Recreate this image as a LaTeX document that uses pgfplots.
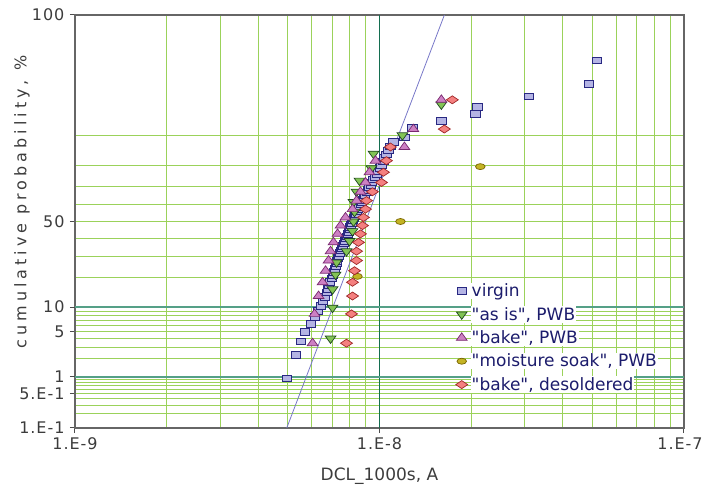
\documentclass[border=0pt]{standalone}
\usepackage{fontspec}
\setmainfont{DejaVu Sans}
\newfontfamily\spaced[LetterSpace=6]{DejaVu Sans}
\newfontfamily\wide[LetterSpace=25]{DejaVu Sans}
\usepackage{pgfplots}
\pgfplotsset{compat=1.18}
\usetikzlibrary{calc}

\definecolor{gridgreen}{RGB}{155,210,90}
\definecolor{vteal}{RGB}{20,110,80}
\definecolor{hteal}{RGB}{85,160,135}
\definecolor{vfill}{RGB}{180,180,228}
\definecolor{vdraw}{RGB}{40,40,130}
\definecolor{gfill}{RGB}{130,195,85}
\definecolor{gdraw}{RGB}{30,70,30}
\definecolor{pfill}{RGB}{205,128,195}
\definecolor{pdraw}{RGB}{120,40,110}
\definecolor{yfill}{RGB}{196,180,36}
\definecolor{ydraw}{RGB}{120,100,0}
\definecolor{rfill}{RGB}{244,128,128}
\definecolor{rdraw}{RGB}{160,40,40}
\definecolor{fitline}{RGB}{120,120,200}
\definecolor{legtext}{RGB}{28,28,108}
\definecolor{labtext}{RGB}{60,60,60}

\begin{document}
\begin{tikzpicture}
\begin{axis}[
    scale only axis,
    width=609pt, height=413pt,
    xmode=log,
    xmin=1e-9, xmax=1e-7,
    ymin=-3.0902, ymax=3.0902,
    % y axis is a normal-probability scale: values are z = probit(F)
    xtick={1e-9,1e-7},
    xticklabels={1.E-9,\hspace*{-8pt}1.E-7},
    extra x ticks={1e-8},
    extra x tick labels={1.E-8},
    extra x tick style={grid=major, major grid style={draw=vteal, line width=1.2pt}},
    minor xtick={2e-9,3e-9,4e-9,5e-9,6e-9,7e-9,8e-9,9e-9,2e-8,3e-8,4e-8,5e-8,6e-8,7e-8,8e-8,9e-8},
    ytick={-3.0902,-2.5758,-1.6449,0,3.0902},
    yticklabels={1.E-1,5.E-1,5,50,100},
    extra y ticks={-2.3263,-1.2816},
    extra y tick labels={1,10},
    extra y tick style={grid=major, major grid style={draw=hteal, line width=2pt}},
    minor ytick={-2.8782,-2.7478,-2.6521,-2.5121,-2.4573,-2.4089,-2.3656,
                 -2.0537,-1.8808,-1.7507,-1.5548,-1.4758,-1.4051,-1.3408,
                 -0.8416,-0.5244,-0.2533,0.2533,0.5244,0.8416,1.2816},
    grid=both,
    major grid style={draw=gridgreen, line width=1pt},
    minor grid style={draw=gridgreen, line width=1pt},
    tick align=outside,
    tick pos=left,
    major tick length=5pt,
    minor tick length=0pt,
    tick style={draw=black!70, line width=1pt},
    axis line style={draw=black!60, line width=1.2pt},
    ticklabel style={font=\spaced\fontsize{16}{16}\selectfont, text=labtext},
    xticklabel style={yshift=-1pt},
    yticklabel style={xshift=-2pt},
    xlabel={DCL\_1000s, A},
    xlabel style={at={(axis description cs:0.5,-0.116)}, anchor=center,
                  font=\fontsize{17}{17}\selectfont, text=labtext},
    ylabel={\wide cumulative probability, \%},
    ylabel style={at={(axis description cs:-0.087,0.547)}, anchor=center,
                  font=\fontsize{16}{16}\selectfont, text=labtext},
    legend style={at={(axis description cs:0.62,0.357)}, anchor=north west,
                  draw=none, fill=none, text=legtext,
                  font=\fontsize{17}{20}\selectfont,
                  nodes={fill=white, inner sep=1pt},
                  row sep=7pt, column sep=3pt},
    legend cell align=left,
]
\coordinate (ll) at (rel axis cs:0,0);
\coordinate (ur) at (rel axis cs:1,1);

% fitted line
\addplot[fitline, line width=0.8pt, forget plot] coordinates {(4.96e-9,-3.0902) (1.634e-8,3.0902)};

% virgin
\addplot[only marks, mark=square*, mark size=3.3pt, draw=vdraw, fill=vfill,
         mark options={xscale=1.4, line width=0.7pt}] coordinates {
(4.956e-9,-2.349) (5.304e-9,-1.998) (5.508e-9,-1.795) (5.677e-9,-1.648)
(5.939e-9,-1.529) (6.121e-9,-1.429) (6.262e-9,-1.341) (6.405e-9,-1.262)
(6.503e-9,-1.190) (6.602e-9,-1.124) (6.702e-9,-1.063) (6.753e-9,-1.005)
(6.804e-9,-0.951) (6.856e-9,-0.900) (6.960e-9,-0.850) (7.013e-9,-0.803)
(7.066e-9,-0.757) (7.120e-9,-0.713) (7.174e-9,-0.670) (7.228e-9,-0.628)
(7.228e-9,-0.588) (7.283e-9,-0.548) (7.338e-9,-0.510) (7.394e-9,-0.472)
(7.450e-9,-0.434) (7.506e-9,-0.398) (7.563e-9,-0.361) (7.620e-9,-0.326)
(7.678e-9,-0.290) (7.736e-9,-0.255) (7.795e-9,-0.221) (7.854e-9,-0.187)
(7.913e-9,-0.152) (7.973e-9,-0.118) (7.973e-9,-0.084) (8.034e-9,-0.051)
(8.094e-9,-0.017) (8.156e-9,0.017) (8.217e-9,0.051) (8.280e-9,0.084)
(8.342e-9,0.118) (8.406e-9,0.152) (8.469e-9,0.187) (8.533e-9,0.221)
(8.663e-9,0.255) (8.729e-9,0.290) (8.795e-9,0.326) (8.862e-9,0.361)
(8.929e-9,0.398) (9.065e-9,0.434) (9.134e-9,0.472) (9.203e-9,0.510)
(9.343e-9,0.548) (9.414e-9,0.588) (9.485e-9,0.628) (9.630e-9,0.670)
(9.776e-9,0.713) (9.925e-9,0.757) (1.0076e-8,0.803) (1.0152e-8,0.850)
(1.0307e-8,0.900) (1.0385e-8,0.951) (1.0543e-8,1.005) (1.0703e-8,1.063)
(1.0866e-8,1.124) (1.1115e-8,1.190) (1.2077e-8,1.262) (1.2828e-8,1.400)
(1.5971e-8,1.51) (2.0643e-8,1.61) (2.0957e-8,1.72) (3.1025e-8,1.87)
(4.8812e-8,2.06) (5.1840e-8,2.41)
};
\addlegendentry{virgin}

% "as is", PWB
\addplot[only marks, mark=triangle*, mark size=6.2pt, draw=gdraw, fill=gfill,
         mark options={rotate=180, yscale=0.8, line width=0.7pt}] coordinates {
(6.909e-9,-1.751) (7.013e-9,-1.290) (7.013e-9,-1.015) (7.174e-9,-0.796)
(7.228e-9,-0.612) (7.795e-9,-0.446) (7.973e-9,-0.292) (8.156e-9,-0.144)
(8.217e-9,0) (8.280e-9,0.144) (8.217e-9,0.292) (8.406e-9,0.446)
(8.598e-9,0.612) (9.410e-9,0.796) (9.560e-9,1.015) (1.1896e-8,1.290)
(1.5971e-8,1.751)
};
\addlegendentry{\textquotedbl as is\textquotedbl, PWB}

% "bake", PWB
\addplot[only marks, mark=triangle*, mark size=6.2pt, draw=pdraw, fill=pfill,
         mark options={yscale=0.8, line width=0.7pt}] coordinates {
(6.030e-9,-1.821) (6.121e-9,-1.383) (6.310e-9,-1.115) (6.503e-9,-0.910)
(6.652e-9,-0.737) (6.804e-9,-0.584) (6.909e-9,-0.445) (7.066e-9,-0.312)
(7.283e-9,-0.185) (7.450e-9,-0.061) (7.736e-9,0.061) (8.156e-9,0.185)
(8.406e-9,0.312) (8.663e-9,0.445) (8.997e-9,0.584) (9.273e-9,0.737)
(9.703e-9,0.910) (1.2077e-8,1.115) (1.2925e-8,1.383) (1.5971e-8,1.821)
};
\addlegendentry{\textquotedbl bake\textquotedbl, PWB}

% "moisture soak", PWB
\addplot[only marks, mark=*, mark size=3pt, draw=ydraw, fill=yfill,
         mark options={xscale=1.6, line width=0.7pt}] coordinates {
(8.469e-9,-0.821) (1.172e-8,0) (2.1437e-8,0.821)
};
\addlegendentry{\textquotedbl moisture soak\textquotedbl, PWB}

% "bake", desoldered
\addplot[only marks, mark=diamond*, mark size=4pt, draw=rdraw, fill=rfill,
         mark options={xscale=2, line width=0.7pt}] coordinates {
(7.795e-9,-1.821) (8.094e-9,-1.383) (8.156e-9,-1.115) (8.156e-9,-0.910)
(8.280e-9,-0.737) (8.406e-9,-0.584) (8.406e-9,-0.445) (8.533e-9,-0.312)
(8.663e-9,-0.185) (8.795e-9,-0.061) (8.862e-9,0.061) (8.997e-9,0.185)
(9.065e-9,0.312) (9.485e-9,0.445) (1.0152e-8,0.584) (1.0307e-8,0.737)
(1.0543e-8,0.910) (1.0866e-8,1.115) (1.6337e-8,1.383) (1.7350e-8,1.821)
};
\addlegendentry{\textquotedbl bake\textquotedbl, desoldered}
\end{axis}
\pgfresetboundingbox
\path ($(ll)+(-75pt,-62pt)$) rectangle ($(ur)+(20pt,15pt)$);
\end{tikzpicture}
\end{document}
